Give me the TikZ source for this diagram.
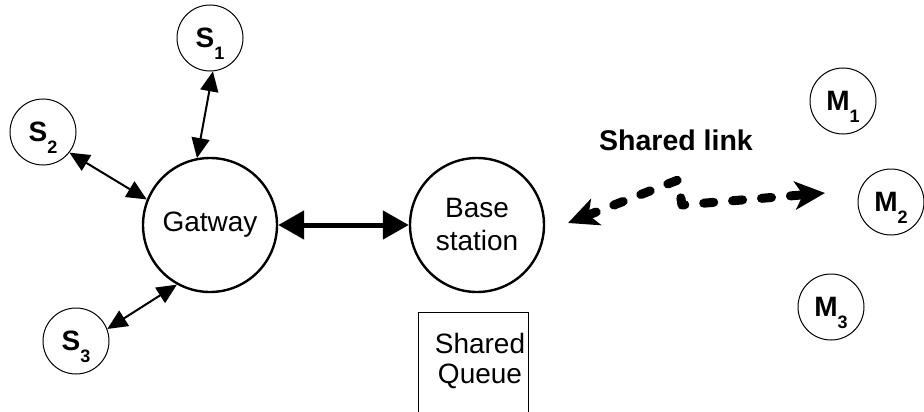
\documentclass[tikz,border=0pt]{standalone}
\usepackage{fontspec}
\setmainfont{Liberation Sans}
\usetikzlibrary{arrows.meta}
\newcommand\subx[1]{\raisebox{-12pt}[0pt][0pt]{\fontsize{18}{18}\selectfont\bfseries #1}}
\begin{document}
\begin{tikzpicture}[x=1pt,y=-1pt,
  small/.style={circle,draw,line width=1pt,minimum size=66pt,inner sep=0pt,
    font=\fontsize{28}{28}\selectfont\bfseries},
  big/.style={circle,draw,line width=2.4pt,minimum size=134pt,inner sep=0pt,
    font=\fontsize{28}{33}\selectfont,align=center},
  thin/.style={line width=2pt,{Triangle[length=20pt,width=18pt]}-{Triangle[length=20pt,width=18pt]}},
  thick/.style={line width=5pt,{Triangle[length=26pt,width=28pt]}-{Triangle[length=26pt,width=28pt]}},
  shared/.style={line width=9pt,dash pattern=on 10pt off 19pt,line cap=round,line join=round,
    {Stealth[length=30pt,width=28pt,inset=8pt,line cap=butt]}-{Stealth[length=30pt,width=28pt,inset=8pt,line cap=butt]}}
]
\useasboundingbox (0,0) rectangle (924,412);
\node[big] (G) at (210,225) {Gatway};
\node[big] (B) at (477,225) {Base\\station};
\node[small] (S1) at (210,38) {S\subx{1}};
\node[small] (S2) at (43,132) {S\subx{2}};
\node[small] (S3) at (76,341) {S\subx{3}};
\node[small] (M1) at (843,101) {M\subx{1}};
\node[small] (M2) at (891,202) {M\subx{2}};
\node[small] (M3) at (831,307) {M\subx{3}};
\node[draw,line width=1pt,minimum width=110pt,minimum height=100pt,inner sep=0pt] (Q) at (473,362) {};
\node[font=\fontsize{28}{30}\selectfont,align=center] (QT) at (480,361) {Shared\\Queue};
\node[font=\fontsize{28.5}{30}\selectfont\bfseries] (L) at (676,140) {Shared link};
\draw[thin] (S1.-85) -- (G.101);
\draw[thin] (S2.-38) -- (G.158);
\draw[thin] (S3.21) -- (G.-119);
\draw[thick] (G) -- (B);
\coordinate (La) at (568,223);
\coordinate (Lb) at (825,193);
\draw[shared] (La) -- (678,180) -- (682,205) -- (Lb);
\end{tikzpicture}
\end{document}
